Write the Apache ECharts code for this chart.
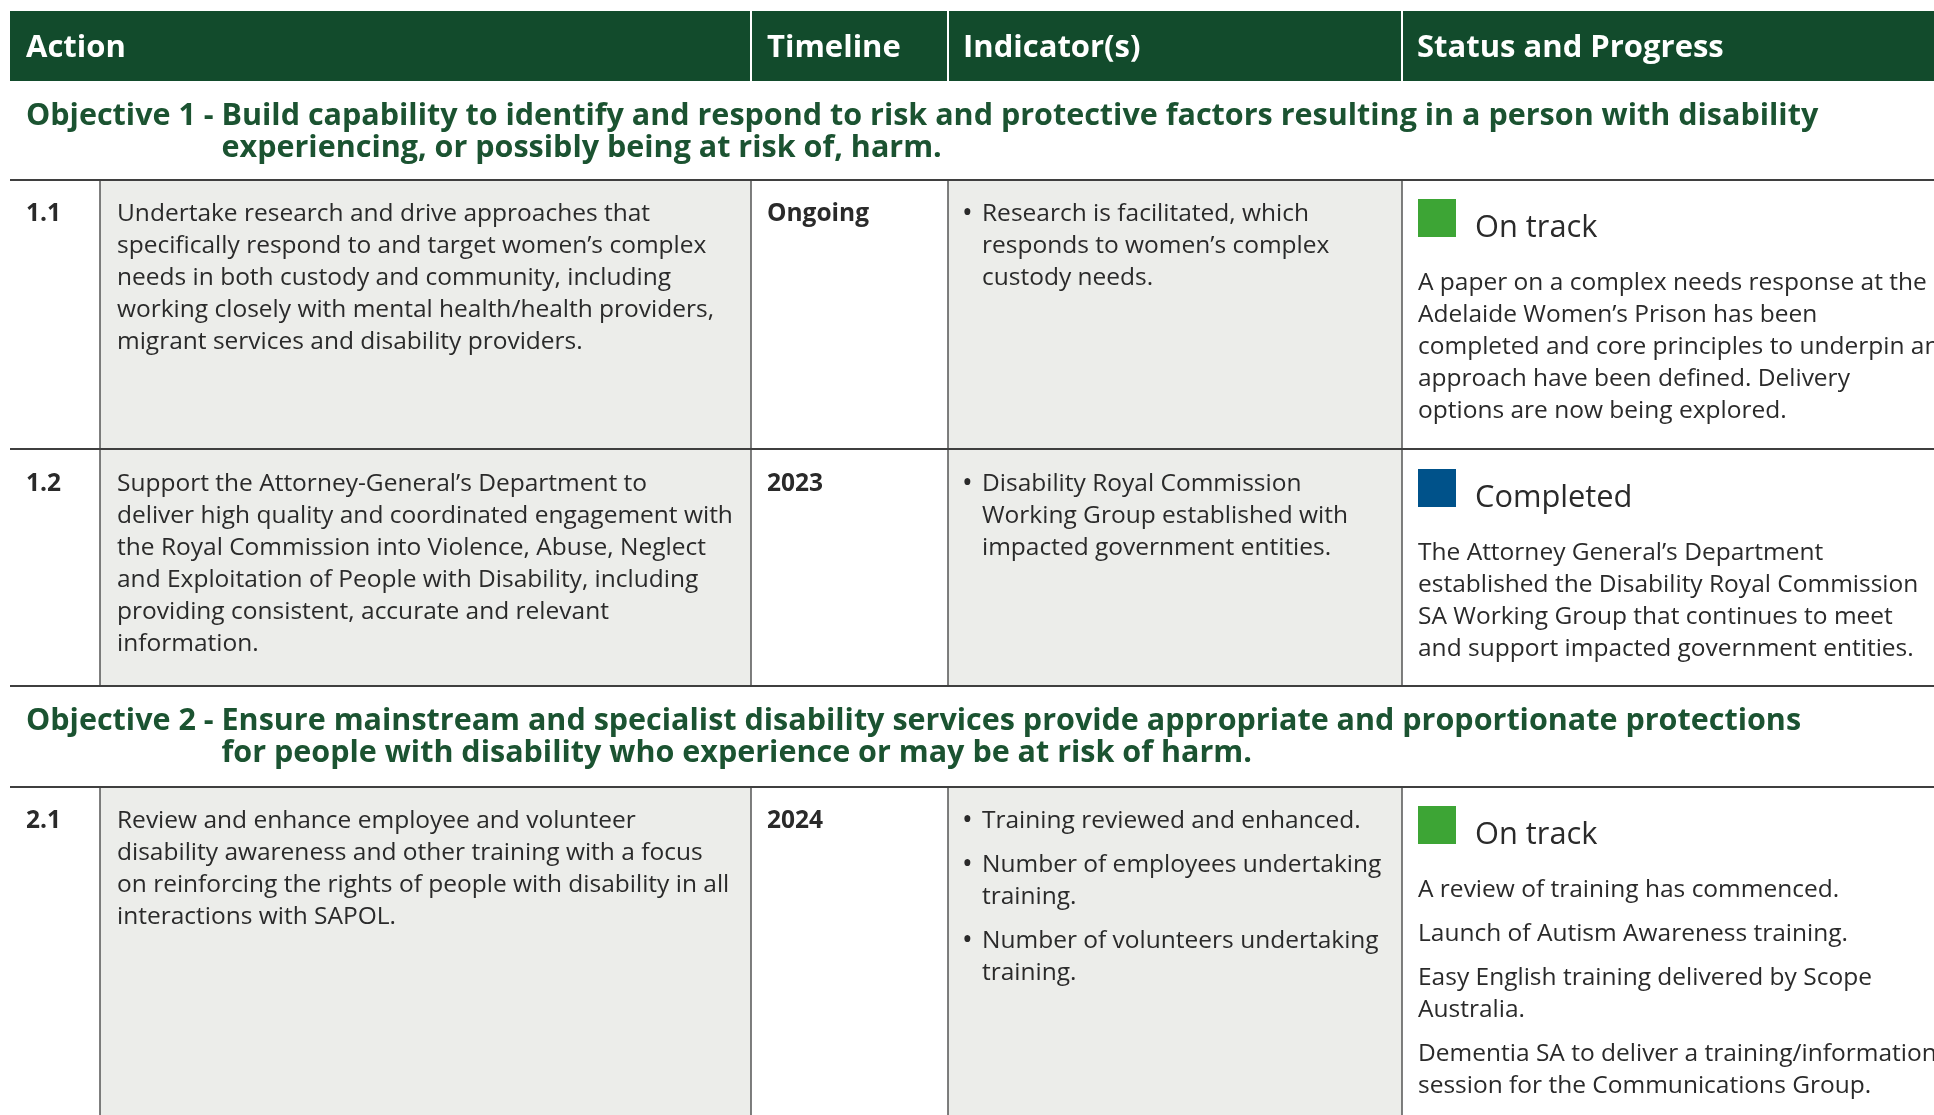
<!DOCTYPE html>
<html><head><meta charset="utf-8">
<script src="https://cdn.jsdelivr.net/npm/echarts@6/dist/echarts.min.js"></script>
<style>html,body{margin:0;padding:0;background:#fff;}#c{width:1934px;height:1115px;}</style>
</head><body><div id="c"></div>
<script>
// ---- data ----
const headers = ['Action', 'Timeline', 'Indicator(s)', 'Status and Progress'];
const objectiveLabels = ['Objective 1 - ', 'Objective 2 - '];
const objectiveTexts = [
  ['Build capability to identify and respond to risk and protective factors resulting in a person with disability',
   'experiencing, or possibly being at risk of, harm.'],
  ['Ensure mainstream and specialist disability services provide appropriate and proportionate protections',
   'for people with disability who experience or may be at risk of harm.']
];
const actionIds = ['1.1', '1.2', '2.1'];
const actionTexts = [
  'Undertake research and drive approaches that\nspecifically respond to and target women\u2019s complex\nneeds in both custody and community, including\nworking closely with mental health/health providers,\nmigrant services and disability providers.',
  'Support the Attorney-General\u2019s Department to\ndeliver high quality and coordinated engagement with\nthe Royal Commission into Violence, Abuse, Neglect\nand Exploitation of People with Disability, including\nproviding consistent, accurate and relevant\ninformation.',
  'Review and enhance employee and volunteer\ndisability awareness and other training with a focus\non reinforcing the rights of people with disability in all\ninteractions with SAPOL.'
];
const timelines = ['Ongoing', '2023', '2024'];
const indicators = [
  ['Research is facilitated, which\nresponds to women\u2019s complex\ncustody needs.'],
  ['Disability Royal Commission\nWorking Group established with\nimpacted government entities.'],
  ['Training reviewed and enhanced.', 'Number of employees undertaking\ntraining.', 'Number of volunteers undertaking\ntraining.']
];
const statuses = ['On track', 'Completed', 'On track'];
const statusNotes = [
  ['A paper on a complex needs response at the\nAdelaide Women\u2019s Prison has been\ncompleted and core principles to underpin an\napproach have been defined. Delivery\noptions are now being explored.'],
  ['The Attorney General\u2019s Department\nestablished the Disability Royal Commission\nSA Working Group that continues to meet\nand support impacted government entities.'],
  ['A review of training has commenced.', 'Launch of Autism Awareness training.', 'Easy English training delivered by Scope\nAustralia.', 'Dementia SA to deliver a training/information\nsession for the Communications Group.']
];
const statusColors = { 'On track': '#3da535', 'Completed': '#00528a' };

// ---- layout / style ----
const FONT = '"Open Sans"';
const DARK = '#124b2c', OBJ = '#1b5331', TXT = '#2a2a2a', GREY = '#ecedea', LINE = '#3f3f3f';
const colX = [10, 100, 751, 948, 1402, 1934];
const LH = 32, PARA = 12;
const BODY = 24.5;
const headerTop = 11, headerBottom = 81;
const objTops = [81, 686];
const rowTops = [180, 450, 787];
const rowBottoms = [449, 686, 1130];

const ctx = document.createElement('canvas').getContext('2d');
function measure(t, size, weight) { ctx.font = weight + ' ' + size + 'px ' + FONT; return ctx.measureText(t).width; }

const els = [];
function txt(x, y, text, size, weight, fill, extra) {
  els.push({ type: 'text', x: x, y: y, silent: true, style: Object.assign({
    text: text, fontSize: size, fontWeight: weight, fontFamily: FONT, fill: fill,
    lineHeight: LH, verticalAlign: 'top', align: 'left'
  }, extra || {}) });
}
function rect(x, y, w, h, fill) { els.push({ type: 'rect', silent: true, shape: { x: x, y: y, width: w, height: h }, style: { fill: fill } }); }
function line(x1, y1, x2, y2, stroke, w) { els.push({ type: 'line', silent: true, shape: { x1: x1, y1: y1, x2: x2, y2: y2 }, style: { stroke: stroke, lineWidth: w } }); }
function nLines(s) { return s.split('\n').length; }

// header
rect(colX[0], headerTop, colX[5] - colX[0], headerBottom - headerTop, DARK);
const headerX = [26, 767, 963, 1417];
headers.forEach((h, i) => txt(headerX[i], (headerTop + headerBottom) / 2 - 17, h, 31, 'bold', '#ffffff', { lineHeight: 38 }));
[2, 3, 4].forEach(ci => line(colX[ci], headerTop, colX[ci], headerBottom, '#ffffff', 2));

// objectives
objectiveLabels.forEach((lab, i) => {
  const top = objTops[i] + 35 - 16;
  const size = 30.5;
  txt(26, top, lab + objectiveTexts[i][0], size, 'bold', OBJ);
  txt(26 + measure(lab, size, 'bold'), top + LH, objectiveTexts[i][1], size, 'bold', OBJ);
});

// rows
actionIds.forEach((id, r) => {
  const top = rowTops[r], bot = rowBottoms[r];
  rect(colX[1], top, colX[2] - colX[1], bot - top, GREY);
  rect(colX[3], top, colX[4] - colX[3], bot - top, GREY);
  [1, 2, 3, 4].forEach(ci => line(colX[ci], top, colX[ci], bot, '#555555', 1.5));
  const ty = top + 34 - LH / 2;
  txt(26, ty, id, BODY, 'bold', TXT);
  txt(117, ty, actionTexts[r], BODY, 'normal', TXT);
  txt(767, ty, timelines[r], BODY, 'bold', TXT);
  let y = ty;
  indicators[r].forEach(p => {
    txt(962, y, '\u2022', BODY + 4, 'normal', TXT);
    txt(982, y, p, BODY, 'normal', TXT);
    y += nLines(p) * LH + PARA;
  });
  const sq = top + 19;
  rect(1418, sq, 38, 38, statusColors[statuses[r]]);
  txt(1475, sq + 29 - 20, statuses[r], 30.8, 'normal', TXT, { lineHeight: 40 });
  y = sq + 84 - LH / 2;
  statusNotes[r].forEach(p => {
    txt(1418, y, p, BODY, 'normal', TXT);
    y += nLines(p) * LH + PARA;
  });
});
// horizontal rules
[180, 449, 686, 787].forEach(y => line(colX[0], y, colX[5], y, LINE, 2));

const chart = echarts.init(document.getElementById('c'));
chart.setOption({ backgroundColor: '#ffffff', animation: false, graphic: { elements: els } });
</script></body></html>
